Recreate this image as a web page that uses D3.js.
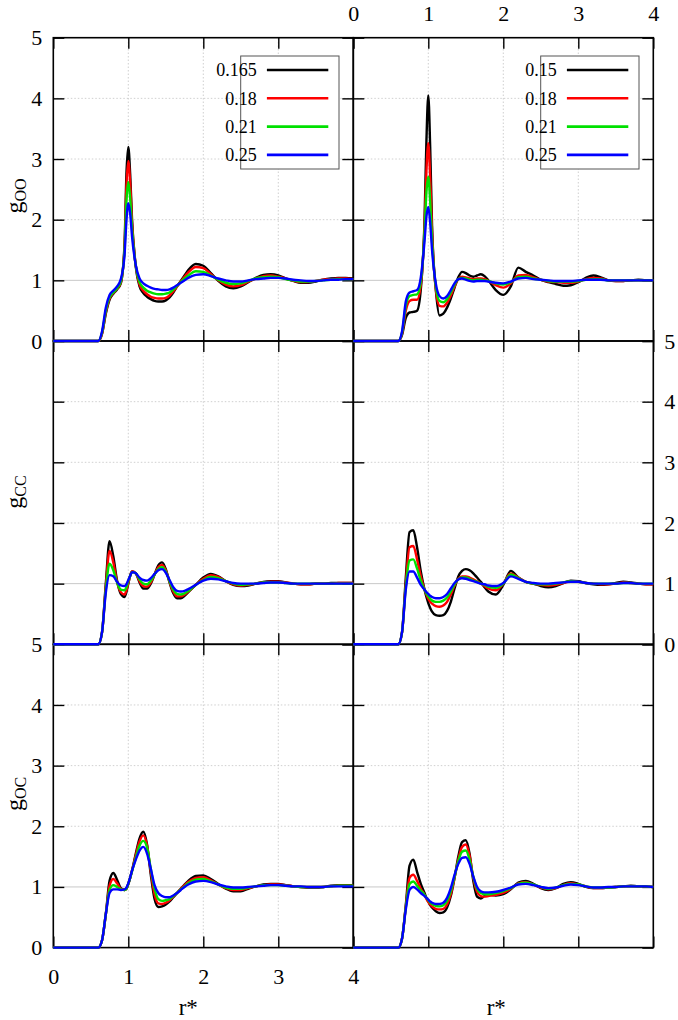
<!DOCTYPE html>
<html>
<head>
<meta charset="utf-8">
<script src="https://cdn.jsdelivr.net/npm/d3@7"></script>
<style>
  html, body { margin: 0; padding: 0; background: #fff; }
  svg { display: block; }
</style>
</head>
<body>
<div id="chart"></div>
<script>
// r* sampling grid shared by every curve
const rGrid = [0, 0.5, 0.6, 0.65, 0.7, 0.75, 0.8, 0.85, 0.9, 0.95, 0.975, 1.0, 1.025, 1.05,
  1.1, 1.15, 1.2, 1.25, 1.3, 1.35, 1.4, 1.45, 1.5, 1.55, 1.6, 1.65, 1.7, 1.75, 1.8,
  1.9, 2.0, 2.1, 2.2, 2.3, 2.4, 2.5, 2.6, 2.7, 2.8, 2.9, 3.0,
  3.1, 3.2, 3.3, 3.4, 3.5, 3.6, 3.7, 3.8, 3.9, 4.0];

// Legend labels (densities) for the left and right columns
const densLeft = ["0.165", "0.18", "0.21", "0.25"];
const densRight = ["0.15", "0.18", "0.21", "0.25"];

const seriesColors = ["#000000", "#ff0000", "#00e000", "#0000ff"];
const xTickValues = [0, 1, 2, 3, 4];
const yTickValues = [0, 1, 2, 3, 4, 5];

// g_OO, left column
const gOOLeft_165 = [0, 0, 0, 0.12, 0.45, 0.68, 0.78, 0.85, 0.95, 1.6, 2.75, 3.2, 2.75, 2.0,
  1.22, 0.9, 0.79, 0.73, 0.69, 0.66, 0.65, 0.65, 0.67, 0.72, 0.8, 0.9, 0.99, 1.08, 1.17,
  1.27, 1.24, 1.12, 0.99, 0.9, 0.87, 0.9, 0.97, 1.04, 1.09, 1.1, 1.08,
  1.03, 0.99, 0.96, 0.96, 0.98, 1.01, 1.03, 1.04, 1.04, 1.03];
const gOOLeft_18 = [0, 0, 0, 0.12, 0.47, 0.7, 0.79, 0.86, 0.96, 1.55, 2.55, 2.97, 2.6, 1.95,
  1.24, 0.93, 0.83, 0.77, 0.73, 0.71, 0.7, 0.7, 0.71, 0.75, 0.82, 0.9, 0.98, 1.06, 1.13,
  1.22, 1.2, 1.1, 1.0, 0.93, 0.9, 0.92, 0.98, 1.03, 1.07, 1.08, 1.06,
  1.03, 0.99, 0.97, 0.97, 0.99, 1.01, 1.02, 1.03, 1.03, 1.02];
const gOOLeft_21 = [0, 0, 0, 0.14, 0.5, 0.72, 0.8, 0.87, 0.98, 1.5, 2.3, 2.62, 2.35, 1.85,
  1.24, 0.97, 0.88, 0.83, 0.8, 0.78, 0.77, 0.77, 0.78, 0.8, 0.85, 0.91, 0.97, 1.03, 1.08,
  1.15, 1.14, 1.08, 1.01, 0.96, 0.94, 0.95, 0.99, 1.03, 1.05, 1.06, 1.05,
  1.02, 1.0, 0.98, 0.98, 0.99, 1.0, 1.01, 1.02, 1.02, 1.02];
const gOOLeft_25 = [0, 0, 0, 0.16, 0.55, 0.76, 0.83, 0.9, 1.02, 1.42, 1.98, 2.27, 2.1, 1.72,
  1.25, 1.03, 0.95, 0.91, 0.88, 0.86, 0.85, 0.84, 0.84, 0.85, 0.88, 0.92, 0.96, 1.0, 1.04,
  1.09, 1.1, 1.07, 1.03, 1.0, 0.98, 0.98, 1.0, 1.02, 1.03, 1.04, 1.04,
  1.03, 1.01, 1.0, 0.99, 0.99, 1.0, 1.01, 1.01, 1.02, 1.02];

// g_OO, right column
const gOORight_15 = [0, 0, 0, 0.1, 0.38, 0.47, 0.48, 0.5, 0.85, 2.0, 3.3, 4.05, 3.2, 1.9,
  0.85, 0.42, 0.45, 0.55, 0.7, 0.88, 1.05, 1.14, 1.12, 1.08, 1.06, 1.08, 1.1, 1.07, 1.0,
  0.84, 0.76, 0.9, 1.21, 1.14, 1.08, 1.01, 0.97, 0.94, 0.91, 0.92, 0.97,
  1.04, 1.08, 1.05, 1.0, 0.99, 0.99, 1.0, 1.01, 1.0, 1.0];
const gOORight_18 = [0, 0, 0, 0.12, 0.5, 0.66, 0.68, 0.68, 0.92, 1.9, 2.8, 3.26, 2.7, 1.8,
  0.85, 0.58, 0.57, 0.63, 0.75, 0.9, 1.02, 1.06, 1.05, 1.03, 1.02, 1.03, 1.03, 1.02, 0.99,
  0.92, 0.88, 0.95, 1.08, 1.09, 1.05, 1.01, 0.98, 0.97, 0.96, 0.96, 0.98,
  1.02, 1.04, 1.03, 1.0, 0.99, 0.99, 1.0, 1.0, 1.0, 1.0];
const gOORight_21 = [0, 0, 0, 0.14, 0.58, 0.74, 0.76, 0.77, 0.98, 1.8, 2.45, 2.71, 2.3, 1.65,
  0.9, 0.66, 0.64, 0.69, 0.8, 0.93, 1.02, 1.04, 1.03, 1.01, 1.0, 1.01, 1.01, 1.0, 0.99,
  0.95, 0.93, 0.97, 1.05, 1.06, 1.03, 1.01, 0.99, 0.98, 0.98, 0.98, 0.99,
  1.01, 1.02, 1.02, 1.0, 1.0, 1.0, 1.0, 1.0, 1.0, 1.0];
const gOORight_25 = [0, 0, 0, 0.16, 0.65, 0.8, 0.82, 0.84, 1.05, 1.65, 2.05, 2.21, 1.95, 1.5,
  0.95, 0.74, 0.7, 0.74, 0.84, 0.95, 1.02, 1.03, 1.01, 0.99, 0.98, 0.99, 0.99, 0.99, 0.98,
  0.96, 0.95, 0.98, 1.03, 1.04, 1.02, 1.01, 1.0, 0.99, 0.99, 0.99, 1.0,
  1.01, 1.01, 1.01, 1.0, 1.0, 1.0, 1.0, 1.0, 1.0, 1.0];

// g_CC, left column
const gCCLeft_165 = [0, 0, 0, 0.2, 1.0, 1.7, 1.45, 1.05, 0.83, 0.78, 0.86, 1.0, 1.13, 1.2,
  1.17, 1.02, 0.92, 0.92, 1.0, 1.15, 1.3, 1.35, 1.24, 1.02, 0.84, 0.76, 0.76, 0.8, 0.86,
  0.98, 1.1, 1.16, 1.12, 1.04, 0.98, 0.96, 0.97, 1.0, 1.03, 1.04, 1.04,
  1.02, 1.0, 0.99, 0.99, 1.0, 1.0, 1.01, 1.01, 1.01, 1.01];
const gCCLeft_18 = [0, 0, 0, 0.2, 0.95, 1.54, 1.35, 1.03, 0.86, 0.82, 0.89, 1.01, 1.13, 1.2,
  1.17, 1.04, 0.96, 0.95, 1.02, 1.15, 1.27, 1.31, 1.22, 1.03, 0.87, 0.79, 0.79, 0.82, 0.87,
  0.98, 1.08, 1.14, 1.11, 1.04, 0.99, 0.97, 0.98, 1.0, 1.02, 1.03, 1.03,
  1.02, 1.0, 0.99, 0.99, 1.0, 1.0, 1.0, 1.01, 1.01, 1.01];
const gCCLeft_21 = [0, 0, 0, 0.2, 0.9, 1.33, 1.22, 1.02, 0.9, 0.89, 0.94, 1.04, 1.13, 1.19,
  1.17, 1.07, 1.0, 0.99, 1.05, 1.15, 1.24, 1.27, 1.2, 1.04, 0.9, 0.83, 0.82, 0.84, 0.88,
  0.98, 1.06, 1.11, 1.09, 1.04, 1.0, 0.98, 0.99, 1.0, 1.02, 1.02, 1.02,
  1.01, 1.0, 1.0, 1.0, 1.0, 1.0, 1.0, 1.0, 1.0, 1.0];
const gCCLeft_25 = [0, 0, 0, 0.2, 0.85, 1.14, 1.12, 1.03, 0.97, 0.96, 0.99, 1.06, 1.13, 1.19,
  1.17, 1.1, 1.06, 1.05, 1.09, 1.16, 1.22, 1.24, 1.18, 1.06, 0.94, 0.88, 0.87, 0.88, 0.91,
  0.98, 1.05, 1.08, 1.07, 1.04, 1.01, 1.0, 1.0, 1.0, 1.01, 1.02, 1.02,
  1.01, 1.0, 1.0, 1.0, 1.0, 1.0, 1.0, 1.0, 1.0, 1.0];

// g_CC, right column
const gCCRight_15 = [0, 0, 0, 0.2, 1.1, 1.85, 1.88, 1.6, 1.2, 0.9, 0.78, 0.68, 0.6, 0.54,
  0.48, 0.47, 0.48, 0.55, 0.7, 0.92, 1.12, 1.21, 1.24, 1.22, 1.17, 1.1, 1.03, 0.94, 0.87,
  0.82, 0.98, 1.21, 1.1, 1.03, 1.0, 0.96, 0.94, 0.96, 1.01, 1.05, 1.04,
  1.01, 0.99, 0.98, 0.99, 1.01, 1.03, 1.02, 1.0, 0.99, 0.99];
const gCCRight_18 = [0, 0, 0, 0.2, 1.0, 1.6, 1.62, 1.4, 1.12, 0.9, 0.82, 0.75, 0.7, 0.67,
  0.63, 0.62, 0.64, 0.7, 0.82, 0.97, 1.08, 1.12, 1.12, 1.1, 1.07, 1.04, 1.0, 0.96, 0.92,
  0.89, 1.0, 1.17, 1.1, 1.03, 1.0, 0.98, 0.97, 0.98, 1.01, 1.04, 1.03,
  1.01, 1.0, 0.99, 0.99, 1.0, 1.02, 1.01, 1.0, 0.99, 0.99];
const gCCRight_21 = [0, 0, 0, 0.2, 0.95, 1.38, 1.4, 1.25, 1.05, 0.9, 0.84, 0.79, 0.75, 0.72,
  0.7, 0.7, 0.72, 0.77, 0.87, 0.99, 1.07, 1.1, 1.1, 1.08, 1.05, 1.03, 1.0, 0.98, 0.95,
  0.93, 1.0, 1.15, 1.09, 1.03, 1.0, 0.99, 0.99, 1.0, 1.02, 1.04, 1.03,
  1.01, 1.0, 1.0, 1.0, 1.0, 1.01, 1.01, 1.0, 1.0, 1.0];
const gCCRight_25 = [0, 0, 0, 0.2, 0.9, 1.2, 1.2, 1.1, 0.98, 0.9, 0.86, 0.83, 0.8, 0.78,
  0.76, 0.76, 0.78, 0.83, 0.92, 1.01, 1.07, 1.09, 1.08, 1.06, 1.04, 1.02, 1.0, 0.99, 0.97,
  0.96, 1.01, 1.12, 1.08, 1.03, 1.01, 1.0, 1.0, 1.01, 1.02, 1.03, 1.03,
  1.01, 1.0, 1.0, 1.0, 1.0, 1.01, 1.01, 1.0, 1.0, 1.0];

// g_OC, left column
const gOCLeft_165 = [0, 0, 0, 0.12, 0.55, 1.1, 1.23, 1.12, 0.98, 0.95, 0.97, 1.05, 1.15, 1.27,
  1.55, 1.8, 1.91, 1.7, 1.2, 0.8, 0.67, 0.68, 0.71, 0.76, 0.83, 0.9, 0.97, 1.04, 1.1,
  1.18, 1.19, 1.13, 1.05, 0.97, 0.93, 0.93, 0.97, 1.01, 1.04, 1.05, 1.05,
  1.03, 1.01, 1.0, 0.99, 0.99, 1.0, 1.02, 1.03, 1.03, 1.03];
const gOCLeft_18 = [0, 0, 0, 0.12, 0.55, 1.02, 1.13, 1.06, 0.97, 0.95, 0.97, 1.05, 1.15, 1.27,
  1.52, 1.75, 1.85, 1.68, 1.25, 0.88, 0.73, 0.72, 0.74, 0.78, 0.84, 0.9, 0.97, 1.03, 1.08,
  1.15, 1.16, 1.11, 1.04, 0.98, 0.95, 0.95, 0.98, 1.01, 1.03, 1.04, 1.04,
  1.03, 1.01, 1.0, 1.0, 1.0, 1.0, 1.01, 1.02, 1.02, 1.02];
const gOCLeft_21 = [0, 0, 0, 0.12, 0.55, 0.95, 1.03, 1.0, 0.96, 0.95, 0.97, 1.05, 1.15, 1.26,
  1.48, 1.68, 1.76, 1.65, 1.3, 0.97, 0.8, 0.77, 0.78, 0.8, 0.85, 0.9, 0.96, 1.01, 1.06,
  1.12, 1.13, 1.09, 1.04, 0.99, 0.97, 0.97, 0.99, 1.01, 1.03, 1.03, 1.03,
  1.02, 1.01, 1.0, 1.0, 1.0, 1.0, 1.01, 1.02, 1.02, 1.02];
const gOCLeft_25 = [0, 0, 0, 0.12, 0.55, 0.9, 0.96, 0.96, 0.95, 0.96, 0.99, 1.06, 1.16, 1.27,
  1.45, 1.6, 1.66, 1.55, 1.3, 1.03, 0.9, 0.85, 0.83, 0.83, 0.86, 0.9, 0.95, 1.0, 1.04,
  1.09, 1.1, 1.08, 1.04, 1.01, 0.99, 0.99, 1.0, 1.01, 1.02, 1.03, 1.03,
  1.02, 1.01, 1.01, 1.0, 1.0, 1.0, 1.01, 1.01, 1.01, 1.01];

// g_OC, right column
const gOCRight_15 = [0, 0, 0, 0.15, 0.7, 1.35, 1.45, 1.25, 1.05, 0.9, 0.82, 0.76, 0.7, 0.66,
  0.6, 0.57, 0.58, 0.66, 0.85, 1.15, 1.5, 1.74, 1.77, 1.55, 1.1, 0.84, 0.81, 0.85, 0.87,
  0.86, 0.88, 0.96, 1.07, 1.1, 1.05, 0.98, 0.95, 0.98, 1.05, 1.08, 1.05,
  1.0, 0.98, 0.98, 0.99, 1.0, 1.01, 1.02, 1.01, 1.01, 1.0];
const gOCRight_18 = [0, 0, 0, 0.15, 0.68, 1.15, 1.2, 1.1, 0.97, 0.87, 0.8, 0.75, 0.71, 0.68,
  0.64, 0.63, 0.64, 0.71, 0.88, 1.15, 1.45, 1.66, 1.7, 1.52, 1.15, 0.92, 0.85, 0.84, 0.85,
  0.87, 0.9, 0.97, 1.06, 1.08, 1.04, 0.99, 0.96, 0.98, 1.03, 1.06, 1.04,
  1.01, 0.98, 0.98, 0.99, 1.0, 1.01, 1.01, 1.01, 1.01, 1.0];
const gOCRight_21 = [0, 0, 0, 0.15, 0.66, 1.05, 1.09, 1.02, 0.94, 0.87, 0.82, 0.78, 0.74, 0.72,
  0.69, 0.68, 0.7, 0.77, 0.93, 1.17, 1.42, 1.58, 1.6, 1.45, 1.17, 0.97, 0.9, 0.88, 0.88,
  0.9, 0.93, 0.98, 1.05, 1.07, 1.04, 1.0, 0.97, 0.99, 1.03, 1.05, 1.04,
  1.01, 0.99, 0.99, 0.99, 1.0, 1.01, 1.01, 1.01, 1.01, 1.0];
const gOCRight_25 = [0, 0, 0, 0.15, 0.63, 0.95, 1.0, 0.96, 0.9, 0.85, 0.82, 0.79, 0.76, 0.74,
  0.72, 0.72, 0.74, 0.82, 0.98, 1.2, 1.38, 1.48, 1.49, 1.38, 1.17, 1.0, 0.93, 0.91, 0.91,
  0.92, 0.95, 0.99, 1.04, 1.05, 1.03, 1.0, 0.98, 0.99, 1.02, 1.04, 1.03,
  1.01, 0.99, 0.99, 1.0, 1.0, 1.01, 1.01, 1.01, 1.01, 1.0];

// Panel layout: which labels/ticks are shown where.
const panels = [
  { row: 0, col: 0, series: [gOOLeft_165, gOOLeft_18, gOOLeft_21, gOOLeft_25], legend: densLeft,
    sub: "OO", leftLabels: true },
  { row: 0, col: 1, series: [gOORight_15, gOORight_18, gOORight_21, gOORight_25], legend: densRight,
    topLabels: true },
  { row: 1, col: 0, series: [gCCLeft_165, gCCLeft_18, gCCLeft_21, gCCLeft_25], sub: "CC" },
  { row: 1, col: 1, series: [gCCRight_15, gCCRight_18, gCCRight_21, gCCRight_25], rightLabels: true },
  { row: 2, col: 0, series: [gOCLeft_165, gOCLeft_18, gOCLeft_21, gOCLeft_25], sub: "OC",
    leftLabels: true, bottomLabels: true, rLabel: true },
  { row: 2, col: 1, series: [gOCRight_15, gOCRight_18, gOCRight_21, gOCRight_25], rLabel: true }
];

function createPanelChart(width, height) {
  // Declare the panel geometry.
  const marginLeft = 53.3;
  const marginTop = 37.7;
  const panelW = 300;
  const panelH = 303.3;
  const tickLen = 11;
  const serif = "'Liberation Serif', 'Times New Roman', serif";
  const yLabelCenter = [196, 492, 794];

  const svg = d3.create("svg")
    .attr("width", width)
    .attr("height", height)
    .attr("viewBox", [0, 0, width, height]);

  svg.append("rect").attr("width", width).attr("height", height).attr("fill", "#fff");

  const frames = svg.append("g");
  const curves = svg.append("g");
  const overlays = svg.append("g");

  panels.forEach(p => {
    const x0 = marginLeft + p.col * panelW;
    const y0 = marginTop + p.row * panelH;

    const x = d3.scaleLinear().domain([0, 4]).range([x0, x0 + panelW]);
    const y = d3.scaleLinear().domain([0, 5]).range([y0 + panelH, y0]);

    const g = frames.append("g");

    // Grid lines.
    g.selectAll(".vgrid").data([1, 2, 3]).join("line")
      .attr("x1", d => x(d)).attr("x2", d => x(d))
      .attr("y1", y(0)).attr("y2", y(5))
      .attr("stroke", "#c4c4c4").attr("stroke-width", 0.8)
      .attr("stroke-dasharray", "1.5,2");
    g.selectAll(".hgrid").data([1, 2, 3, 4]).join("line")
      .attr("x1", x(0)).attr("x2", x(4))
      .attr("y1", d => y(d)).attr("y2", d => y(d))
      .attr("stroke", d => d === 1 ? "#c8c8c8" : "#c4c4c4")
      .attr("stroke-width", d => d === 1 ? 1 : 0.8)
      .attr("stroke-dasharray", d => d === 1 ? null : "1.5,2");

    const styleAxis = a => {
      a.select(".domain").remove();
      a.attr("font-family", serif).attr("font-size", 22);
      a.selectAll(".tick line").attr("stroke", "#000").attr("stroke-width", 1.4);
      a.selectAll(".tick text").attr("fill", "#000");
    };
    const fmt = show => show ? d3.format("d") : () => "";

    // Ticks on all four sides, pointing inwards.
    g.append("g").attr("transform", `translate(0,${y(0)})`)
      .call(d3.axisBottom(x).tickValues(xTickValues).tickSize(-tickLen).tickPadding(21)
        .tickFormat(fmt(p.bottomLabels)))
      .call(styleAxis);
    g.append("g").attr("transform", `translate(0,${y(5)})`)
      .call(d3.axisTop(x).tickValues(xTickValues).tickSize(-tickLen).tickPadding(17)
        .tickFormat(fmt(p.topLabels)))
      .call(styleAxis);
    g.append("g").attr("transform", `translate(${x(0)},0)`)
      .call(d3.axisLeft(y).tickValues(yTickValues).tickSize(-tickLen).tickPadding(11)
        .tickFormat(fmt(p.leftLabels)))
      .call(styleAxis);
    g.append("g").attr("transform", `translate(${x(4)},0)`)
      .call(d3.axisRight(y).tickValues(yTickValues).tickSize(-tickLen).tickPadding(11)
        .tickFormat(fmt(p.rightLabels)))
      .call(styleAxis);

    // Panel border.
    g.append("rect")
      .attr("x", x(0)).attr("y", y(5))
      .attr("width", x(4) - x(0)).attr("height", y(0) - y(5))
      .attr("fill", "none").attr("stroke", "#000").attr("stroke-width", 1.6);

    // Y axis label g_XX.
    if (p.sub) {
      const t = svg.append("text")
        .attr("transform", `translate(22,${yLabelCenter[p.row]}) rotate(-90)`)
        .attr("text-anchor", "middle")
        .attr("font-family", serif)
        .attr("fill", "#000");
      t.append("tspan").attr("font-size", 24).text("g");
      t.append("tspan").attr("font-size", 16).attr("dy", 4).text(p.sub);
    }

    // X axis label r*.
    if (p.rLabel) {
      svg.append("text")
        .attr("x", x(2) - (p.col === 0 ? 15 : 7))
        .attr("y", 1015)
        .attr("text-anchor", "middle")
        .attr("font-family", serif)
        .attr("font-size", 23)
        .attr("fill", "#000")
        .text("r*");
    }

    // Curves, black first and blue on top.
    const line = d3.line()
      .x((d, i) => x(rGrid[i]))
      .y(d => y(d))
      .curve(d3.curveMonotoneX);

    p.series.forEach((values, i) => {
      curves.append("path")
        .datum(values)
        .attr("fill", "none")
        .attr("stroke", seriesColors[i])
        .attr("stroke-width", 2.4)
        .attr("stroke-linejoin", "round")
        .attr("d", line);
    });

    // Legend box.
    if (p.legend) {
      const lg = overlays.append("g").attr("transform", `translate(${x0},${y0})`);
      const box = lg.append("rect")
        .attr("y", 18.3).attr("height", 113)
        .attr("fill", "#fff").attr("stroke", "#555").attr("stroke-width", 1);
      const texts = lg.selectAll("text").data(p.legend).join("text")
        .attr("x", 203.4)
        .attr("y", (d, i) => 32.3 + i * 28.3)
        .attr("dy", "0.35em")
        .attr("text-anchor", "end")
        .attr("font-family", serif)
        .attr("font-size", 18)
        .attr("fill", "#000")
        .text(d => d);
      lg.selectAll("line").data(p.legend).join("line")
        .attr("x1", 213.6).attr("x2", 275)
        .attr("y1", (d, i) => 32.3 + i * 28.3)
        .attr("y2", (d, i) => 32.3 + i * 28.3)
        .attr("stroke", (d, i) => seriesColors[i])
        .attr("stroke-width", 2.6);
      const left = d3.min(texts.nodes(), n => 203.4 - n.getComputedTextLength());
      box.attr("x", left - 16).attr("width", 285.7 - (left - 16));
    }
  });

  return svg.node();
}

const chartNode = createPanelChart(678, 1020);
document.getElementById("chart").appendChild(chartNode);
</script>
</body>
</html>
